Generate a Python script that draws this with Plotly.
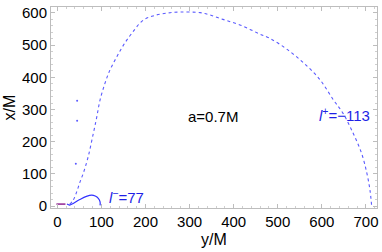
import plotly.graph_objects as go

# big dotted trajectory (l+ = -113)
orbit_plus_y = [28, 36, 44, 51.5, 59, 70, 80, 89, 97, 108, 119.5, 135, 150, 169, 195, 220, 250, 280,
                324, 346, 369, 392, 414, 437, 460, 482, 520, 560, 596, 626, 648, 671, 690, 702, 709, 713]
orbit_plus_x = [5, 18, 44, 75, 102, 153, 215, 273, 330, 381, 423, 464, 500, 537, 578, 592, 600, 603,
                601, 594, 583, 573, 563, 549, 534, 521, 488, 443, 392, 330, 288, 226, 164, 102, 50, -2]

# small solid trajectory (l- = 77)
orbit_minus_y = [22, 28, 36, 51, 66, 78, 86, 93, 97, 97]
orbit_minus_x = [6, 3, 8, 20, 30, 34, 31, 24, 13, 2]

# purple dash-dot segment
seg_y = [-2, 21]
seg_x = [6, 6]

# stray dots
dots_y = [45, 45, 42]
dots_x = [327, 265, 131]

label_col = "#1f1fe6"
FONT = "Liberation Sans, Arial"

fig = go.Figure()
fig.add_trace(go.Scatter(x=orbit_plus_y, y=orbit_plus_x, mode="lines", line_shape="spline",
                         line=dict(color="rgb(90,90,255)", width=1.1, dash="dot"), showlegend=False))
fig.add_trace(go.Scatter(x=orbit_minus_y, y=orbit_minus_x, mode="lines", line_shape="spline",
                         line=dict(color="rgb(50,50,255)", width=1.2), showlegend=False))
fig.add_trace(go.Scatter(x=seg_y, y=seg_x, mode="lines",
                         line=dict(color="#800080", width=1.3, dash="dashdot"), showlegend=False))
fig.add_trace(go.Scatter(x=dots_y, y=dots_x, mode="markers",
                         marker=dict(color="rgb(90,90,255)", size=2), showlegend=False))

fig.add_annotation(x=352, y=279, text="a=0.7M", showarrow=False,
                   font=dict(family=FONT, size=15, color="black"))
fig.add_annotation(x=652, y=283, text="<i>l</i><sup>+</sup>=−113", showarrow=False,
                   font=dict(family=FONT, size=15, color=label_col))
fig.add_annotation(x=157, y=30, text="<i>l</i><sup>−</sup>=77", showarrow=False,
                   font=dict(family=FONT, size=15, color=label_col))

axis_common = dict(showgrid=False, zeroline=False, showline=True, linecolor="#bdbdbd", linewidth=1,
                   mirror="allticks", ticks="inside", ticklen=4, tickcolor="#bdbdbd",
                   tickfont=dict(family=FONT, size=15, color="black"),
                   minor=dict(dtick=20, ticks="inside", ticklen=2, tickcolor="#cfcfcf"))

fig.update_xaxes(range=[-14.3, 725], dtick=100, tick0=0,
                 title=dict(text="y/M", font=dict(family=FONT, size=16, color="black"),
                            standoff=4), **axis_common)
fig.update_yaxes(range=[-6.2, 618.6], dtick=100, tick0=0,
                 title=dict(text="x/M", font=dict(family=FONT, size=16, color="black"),
                            standoff=2), **axis_common)

fig.update_layout(width=382, height=252, margin=dict(l=51, r=5, t=7, b=44),
                  plot_bgcolor="white", paper_bgcolor="white")

fig.write_html("out.html", config={"displayModeBar": False},
               post_script="document.body.style.margin='0';document.body.style.padding='0';")
